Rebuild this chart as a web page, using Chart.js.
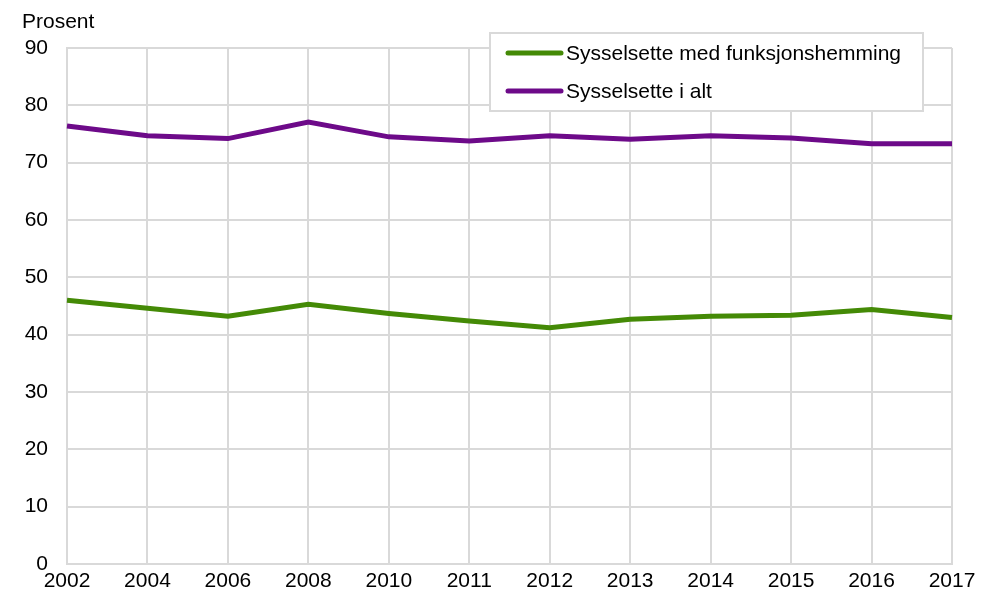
<!DOCTYPE html>
<html>
<head>
<meta charset="utf-8">
<script src="https://cdn.jsdelivr.net/npm/chart.js@4/dist/chart.umd.min.js"></script>
<style>
  body { margin: 0; background: #fff; }
  canvas { display: block; }
</style>
</head>
<body>
<canvas id="sysselsatte" width="995" height="608"></canvas>
<script>
const years = ["2002", "2004", "2006", "2008", "2010", "2011", "2012", "2013", "2014", "2015", "2016", "2017"];
const medFunksjonshemming = [46.0, 44.6, 43.2, 45.3, 43.7, 42.4, 41.2, 42.7, 43.2, 43.4, 44.4, 43.0];
const iAlt = [76.4, 74.7, 74.2, 77.1, 74.5, 73.8, 74.7, 74.1, 74.7, 74.3, 73.3, 73.3];
const seriesNames = ["Sysselsette med funksjonshemming", "Sysselsette i alt"];

const FONT = "'Liberation Sans', Arial, sans-serif";
const GRID = "#d9d9d9";

// legend box in the top right + "Prosent" over the y axis
const boxLegend = {
  id: "boxLegend",
  afterDraw(chart) {
    const ctx = chart.ctx;
    ctx.save();
    ctx.font = "21px " + FONT;
    ctx.fillStyle = "#000";
    ctx.textBaseline = "middle";
    ctx.textAlign = "left";
    ctx.fillText("Prosent", 22, 22);

    ctx.fillStyle = "#fff";
    ctx.fillRect(490, 33, 433, 78);
    ctx.strokeStyle = GRID;
    ctx.lineWidth = 2;
    ctx.strokeRect(490, 33, 433, 78);

    chart.data.datasets.forEach((ds, i) => {
      const y = 53 + i * 38;
      ctx.strokeStyle = ds.borderColor;
      ctx.lineWidth = 5;
      ctx.lineCap = "round";
      ctx.beginPath();
      ctx.moveTo(508, y);
      ctx.lineTo(561, y);
      ctx.stroke();
      ctx.fillStyle = "#000";
      ctx.fillText(ds.label, 566, y + 1);
    });
    ctx.restore();
  },
};

const data = {
  labels: years,
  datasets: [
    {
      label: seriesNames[0],
      data: medFunksjonshemming,
      borderColor: "#448a06",
      borderWidth: 5,
      pointRadius: 0,
      tension: 0,
    },
    {
      label: seriesNames[1],
      data: iAlt,
      borderColor: "#6d0a89",
      borderWidth: 5,
      pointRadius: 0,
      tension: 0,
    },
  ],
};

const options = {
  responsive: false,
  animation: false,
  layout: { padding: { top: 48, right: 43, bottom: 0, left: 0 } },
  plugins: {
    legend: { display: false },
    tooltip: { enabled: false },
  },
  scales: {
    x: {
      grid: { color: GRID, lineWidth: 2, drawTicks: false },
      border: { color: GRID, width: 2 },
      ticks: {
        color: "#000",
        font: { family: FONT, size: 21 },
        padding: 5,
        autoSkip: false,
        maxRotation: 0,
      },
      afterFit(scale) { scale.height = 44; },
    },
    y: {
      min: 0,
      max: 90,
      grid: { color: GRID, lineWidth: 2, drawTicks: false },
      border: { color: GRID, width: 2 },
      ticks: {
        stepSize: 10,
        color: "#000",
        font: { family: FONT, size: 21 },
        padding: 19,
      },
      afterFit(scale) { scale.width = 67; },
    },
  },
};

const chart = new Chart(document.getElementById("sysselsatte"), {
  type: "line",
  data: data,
  options: options,
  plugins: [boxLegend],
});
</script>
</body>
</html>
